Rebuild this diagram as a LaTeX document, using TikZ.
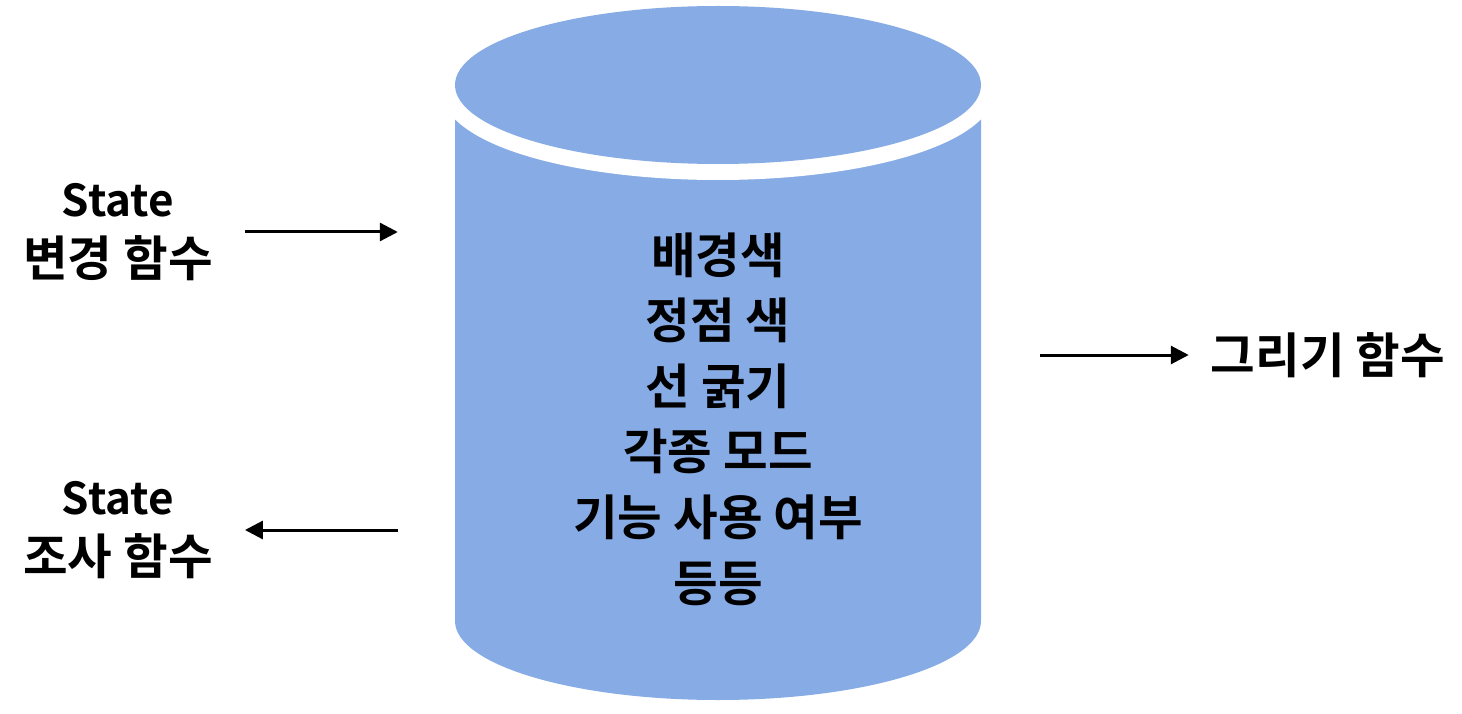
\documentclass[tikz,border=0pt]{standalone}
\usepackage{fontspec}
\setmainfont{Noto Sans CJK KR}[BoldFont=* Bold]
\usetikzlibrary{arrows.meta,positioning}
\definecolor{drumblue}{RGB}{134,171,229}
\newcommand{\latinpart}[1]{{\fontsize{44}{60}\selectfont #1}}

\begin{document}
\begin{tikzpicture}[
  x=1pt, y=1pt,
  lbl/.style={font=\fontsize{48.5}{60}\selectfont\bfseries, align=center, inner sep=0pt},
  arr/.style={-{Triangle[length=18pt, width=18pt]}, line width=3pt, color=black},
]
\useasboundingbox (0,0) rectangle (1462,-714);

% the drum
\fill[drumblue] (455,-85) -- (455,-621)
  arc[start angle=180, end angle=360, x radius=263pt, y radius=79pt] -- (981,-85) -- cycle;
\draw[white, line width=32pt] (718,-85) ellipse[x radius=263pt, y radius=79pt];
\fill[drumblue] (718,-85) ellipse[x radius=263pt, y radius=79pt];

\node[lbl, font=\fontsize{48.5}{65.6}\selectfont\bfseries, minimum width=526pt] (data) at (718,-419)
  {배경색\\정점 색\\선 굵기\\각종 모드\\기능 사용 여부\\등등};

\node[lbl] (setfn) at (118,-232) {\latinpart{State}\\변경 함수};
\node[lbl] (getfn) at (118,-530) {\latinpart{State}\\조사 함수};
\node[lbl] (drawfn) at (1328,-355) {그리기 함수};

\draw[arr, shorten <=32pt, shorten >=57pt] (setfn.east) -- (setfn.east -| data.west);
\draw[arr, shorten <=57pt, shorten >=32pt] (getfn.east -| data.west) -- (getfn.east);
\draw[arr, shorten <=59pt, shorten >=22pt] (drawfn.west -| data.east) -- (drawfn.west);
\end{tikzpicture}
\end{document}
